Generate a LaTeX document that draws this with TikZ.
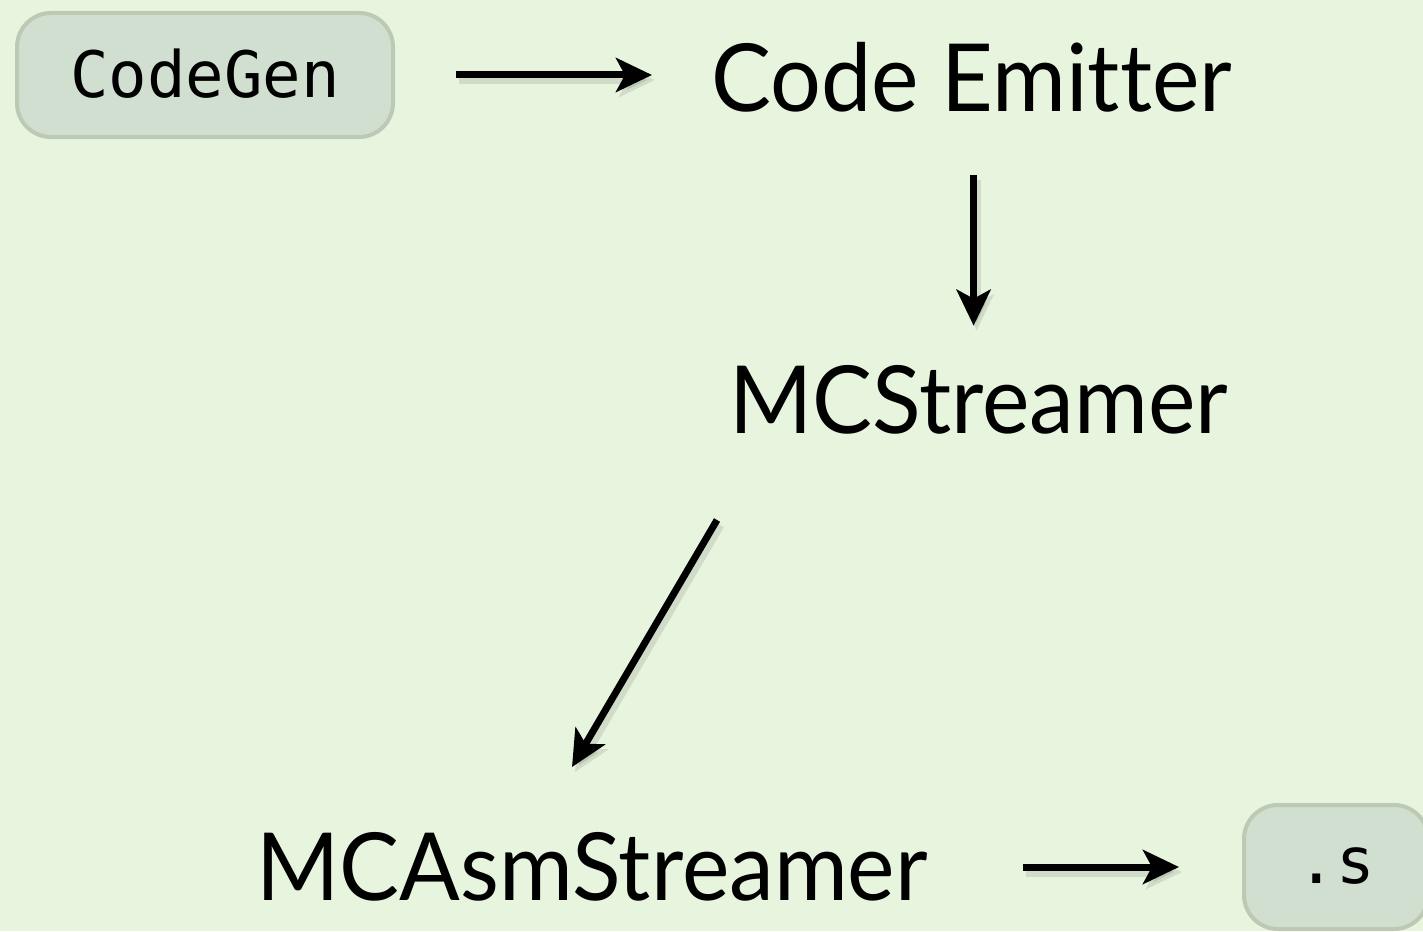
\documentclass[tikz,border=0pt]{standalone}
\usepackage{fontspec}
\setmainfont{Lato}[FakeStretch=0.955, Ligatures={NoCommon}]
\newfontfamily\monofont{DejaVu Sans Mono}
\usetikzlibrary{arrows.meta,calc}
\definecolor{bg}{RGB}{232,245,222}
\definecolor{boxfill}{RGB}{208,223,208}
\definecolor{boxline}{RGB}{190,201,180}
\begin{document}
\begin{tikzpicture}[x=1pt,y=-1pt,
  codebox/.style={draw=boxline, fill=boxfill, line width=4pt, rounded corners=34pt,
    inner sep=0pt, font=\monofont\fontsize{64}{70}\selectfont},
  biglabel/.style={inner sep=0pt, anchor=base west, font=\fontsize{94}{100}\selectfont},
  arr/.style={line width=7pt, -{Stealth[length=36pt,width=34pt,inset=9pt]},
    preaction={draw=black!60, opacity=0.18, line width=9pt, transform canvas={shift={(3pt,-5pt)}}}}
]
\clip (0,0) rectangle (1423,931);
\fill[bg] (0,0) rectangle (1423,931);

\node[codebox, minimum width=376pt, minimum height=124pt] (codegen) at (205,75) {\raisebox{4pt}{CodeGen}};
\node[biglabel] (emitter) at (711,112) {Code Emitter};
\node[biglabel] (streamer) at (729,433) {MCStreamer};
\node[biglabel] (asm) at (256,900) {MCAsmStreamer};
\node[codebox, minimum width=184pt, minimum height=124pt] (sfile) at (1336,867) {\raisebox{2pt}{.s}};

\draw[arr, shorten <=61pt, shorten >=59pt] (codegen.east) -- (codegen.east -| emitter.west);
\draw[arr, shorten <=63pt, shorten >=39pt] ([xshift=2pt]emitter.base) -- ([xshift=2pt]emitter.base |- streamer.north);
\coordinate (a3s) at ([shift={(-12,87)}]streamer.base west);
\coordinate (a3e) at ([shift={(316,-133)}]asm.base west);
\draw[arr] (a3s) -- (a3e);
\draw[arr, shorten <=95pt, shorten >=63pt] (asm.east |- sfile.west) -- (sfile.west);
\end{tikzpicture}
\end{document}
